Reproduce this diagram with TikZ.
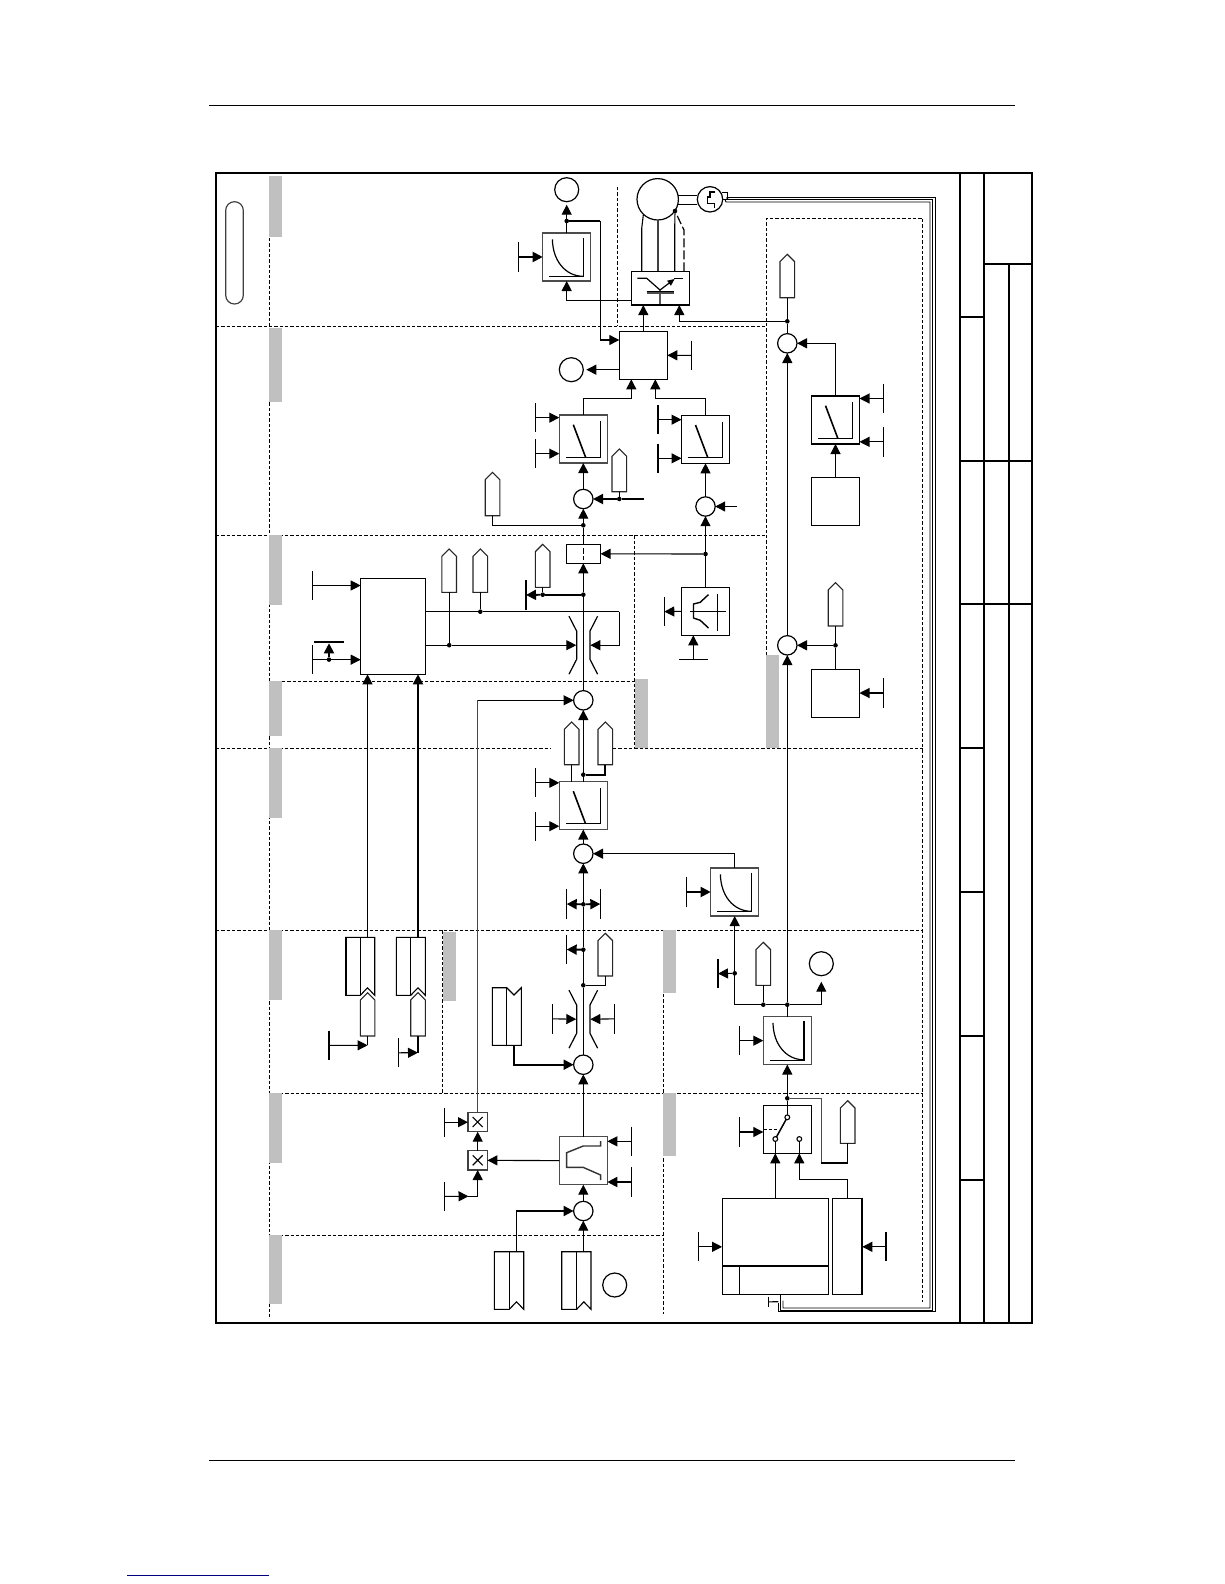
\documentclass[tikz,border=0pt]{standalone}
\usetikzlibrary{arrows.meta,calc}
\definecolor{barg}{HTML}{C0C0C0}
\definecolor{linkb}{HTML}{000080}
\tikzset{
  x=1pt,y=-1pt,
  thn/.style={line width=1.1pt},
  thk/.style={line width=1.9pt},
  frameln/.style={line width=2pt},
  dsh/.style={line width=.9pt,dash pattern=on 3.3pt off 2pt},
  arr/.style={-{Triangle[width=10pt,length=10pt]}},
  bar/.style={fill=barg,draw=none},
  box/.style={rectangle,draw,line width=1.2pt,minimum size=48pt,inner sep=0pt,outer sep=0pt},
  boxk/.style={box,line width=1.6pt},
  boxg/.style={box,line width=1.5pt,draw=black!70},
  sumc/.style={circle,draw,line width=1.2pt,minimum size=19.4pt,inner sep=0pt,outer sep=0pt},
  oc/.style={circle,draw,line width=1.2pt,minimum size=24pt,inner sep=0pt,outer sep=0pt},
  jdot/.style={circle,fill,minimum size=4.6pt,inner sep=0pt,outer sep=0pt},
  contact/.style={circle,draw,fill=white,line width=1.1pt,minimum size=4.8pt,inner sep=0pt,outer sep=0pt},
  xbox/.style={box,minimum size=19.4pt,line width=1.5pt,draw=black!75},
  throtn/.style={rectangle,minimum width=14pt,minimum height=28pt,inner sep=0pt,outer sep=0pt},
  sym/.style={line width=1.2pt},
  curvesym/.pic={
    \draw[sym] (16.7,-19.3) -- (16.7,19.7) -- (-17.3,19.7);
    \draw[sym] (-14.3,-17.7) .. controls (-14,4) and (-1,19) .. (16,19.3);
  },
  rampsym/.pic={
    \draw[line width=1.6pt] (-10,-14.3) -- (2.3,18.3);
    \draw[sym] (17.3,-17.7) -- (17.3,18.3) -- (-17.3,18.3);
  },
  throtsym/.pic={
    \draw[sym] (-14.3,-29) -- (-6.6,-14) -- (-6.6,14) -- (-14.3,29);
    \draw[sym] (14.3,-29) -- (6.6,-14) -- (6.6,14) -- (14.3,29);
  },
  xsym/.pic={
    \draw[thn] (-5,-5) -- (5,5) (-5,5) -- (5,-5);
  },
  fwsym/.pic={
    \draw[thn] (-16,0) -- (20,0);
    \draw[thn] (12,-17.7) -- (12,19.7);
    \draw[line width=1.4pt] (3,-16.7) -- (-5.3,-9) -- (-12,-7.3) -- (-12,6.7) -- (-5.3,9) -- (3,16.7);
  },
  limsym/.pic={
    \draw[line width=1.4pt,draw=black!80] (17.3,-19.7) -- (17.3,-14.7) -- (0,-14.7) -- (-16.7,-8) -- (-16.7,6.7) -- (0,6.7) -- (17.3,14.3) -- (17.3,19.3);
  },
}
% upward pentagon tag: name, centre x, top y, bottom y
\newcommand\pentag[4]{%
  \draw[thn,draw=black!85,fill=white] (#2-7.3,#4) -- (#2-7.3,#3+7.3) -- (#2,#3) -- (#2+7.3,#3+7.3) -- (#2+7.3,#4) -- cycle;
  \coordinate (#1) at (#2,#4);}
% vertical parameter bar: name, x, y1, y2, width
\newcommand\vtick[5]{%
  \draw[line width=#5] (#2,#3) -- (#2,#4);
  \coordinate (#1) at (#2,{(#3+#4)/2});}
% data block with a notch at the bottom: name, left x, mid x, right x, top y, bottom y
\newcommand\blockb[6]{%
  \draw[thn,fill=white] (#2,#5) -- (#4,#5) -- (#4,#6) -- ({(#3+#4)/2},#6-7.5) -- (#3,#6) -- (#2,#6) -- cycle;
  \draw[thn] (#3,#5) -- (#3,#6);
  \coordinate (#1) at ({(#3+#4)/2},#5);}
\begin{document}
\begin{tikzpicture}
\useasboundingbox (0,0) rectangle (1224,1584);
\fill[white] (0,0) rectangle (1224,1584);
% page rules
\draw[line width=1.1pt] (209,105.3) -- (1014.7,105.3);
\draw[line width=1.1pt] (209,1460.3) -- (1014.7,1460.3);
\draw[line width=1.1pt,linkb] (127,1575.3) -- (269,1575.3);
% dashed zones
\draw[dsh] (216,326.3) -- (766.7,326.3);
\draw[dsh] (216,535.3) -- (766.7,535.3);
\draw[dsh] (282,681.3) -- (634.7,681.3);
\draw[dsh] (216,748.3) -- (550,748.3);
\draw[dsh] (613,748.3) -- (922.7,748.3);
\draw[dsh] (216,930.3) -- (922.7,930.3);
\draw[dsh] (269.3,1093.3) -- (922.7,1093.3);
\draw[dsh] (269.3,1235.3) -- (663.3,1235.3);
\draw[dsh] (269.3,238) -- (269.3,1318);
\draw[dsh] (442.7,930.3) -- (442.7,1093.3);
\draw[dsh] (634.7,535.3) -- (634.7,748.3);
\draw[dsh] (663.3,930.3) -- (663.3,1314);
\draw[dsh] (617.3,187) -- (617.3,326.3);
\draw[dsh] (766.7,655) -- (766.7,218.3) -- (922.7,218.3) -- (922.7,1302);
% grey bars
\foreach \a/\b in {176/237,328.3/401.7,535/604.7,681/735.7,748/817.7,930/1000,1093.3/1162.7,1235/1303.7}
  \fill[bar] (269.3,\a) rectangle (282,\b);
\fill[bar] (442.7,932) rectangle (456,1000.7);
\fill[bar] (634.7,679) rectangle (648,748);
\fill[bar] (663,930) rectangle (676,992.7);
\fill[bar] (663,1093.3) rectangle (676,1156);
\fill[bar] (766,655) rectangle (779,748);
% frame and title block
\draw[frameln] (216,172.7) rectangle (1032,1322.7);
\draw[frameln] (960,172.7) -- (960,1322.7);
\draw[frameln] (984,172.7) -- (984,1322.7);
\draw[frameln] (1008.7,264) -- (1008.7,1322.7);
\draw[frameln] (984,264) -- (1032,264);
\draw[frameln] (960,317) -- (984,317);
\draw[frameln] (960,460.7) -- (1032,460.7);
\draw[frameln] (960,604.3) -- (1032,604.3);
\draw[frameln] (960,747.7) -- (984,747.7);
\draw[frameln] (960,892) -- (984,892);
\draw[frameln] (960,1035.7) -- (984,1035.7);
\draw[frameln] (960,1179.7) -- (984,1179.7);
\draw[line width=1.2pt,draw=black!75,rounded corners=8.7pt] (225.7,201.7) rectangle (243.3,304);
% ---------- motor and power stage
\node[circle,draw,line width=1.2pt,minimum size=41.4pt,inner sep=0pt,outer sep=0pt,fill=white] (motor) at (657.7,199.3) {};
\node[circle,draw,line width=1.2pt,minimum size=25.4pt,inner sep=0pt,outer sep=0pt,fill=white] (enc) at (710,199.3) {};
\coordinate (mtA) at (678,195.7);
\coordinate (mtB) at (678,204.3);
\draw[thn] (mtA) -- (enc.west |- mtA);
\draw[thn] (mtB) -- (enc.west |- mtB);
\draw[line width=1.2pt] (715,192) -- (710,192) -- (710,197) -- (707.3,197) -- (707.3,203.6) -- (714.3,203.6) -- (714.3,207.6);
\node[rectangle,draw,line width=1.3pt,minimum width=58pt,minimum height=33.7pt,inner sep=0pt,outer sep=0pt] (inv) at (660.3,288.2) {};
\coordinate (mA) at (641.7,228.3);
\coordinate (mB) at (658,219.5);
\coordinate (mC) at (674.7,229);
\coordinate (mD) at (684,230);
\node[jdot] (mdot) at (675,211) {};
\draw[thn] (inv.north -| mA) -- (mA) -- (643.3,215);
\draw[line width=1.4pt,draw=black!75] (inv.north -| mB) -- (mB);
\draw[thn] (inv.north -| mC) -- (mC) -- (mdot);
\draw[line width=1.2pt,dash pattern=on 9pt off 3pt] (inv.north -| mD) -- (mD) -- (680,221.7) -- (mdot);
% transistor
\draw[sym] (637.3,278.3) -- (646.7,278.3) -- (660,290) -- (660,305);
\draw[-{Triangle[width=6pt,length=7pt]},sym] (660,290) -- (674.6,279);
\draw[sym] (674,278.3) -- (683.3,278.3);
\draw[sym] (646.7,291.3) -- (674,291.3);
\draw[sym,draw=black!70] (646.7,293) -- (674,293);
% triple encoder lines
\draw[line width=.9pt] (721.7,192.3) -- (727.7,192.3) -- (727.7,197.3) -- (935,197.3) -- (935,1311.7) -- (778.3,1311.7) -- (778.3,1302.7);
\draw[line width=.9pt] (722.7,199.5) -- (932.3,199.5) -- (932.3,1310) -- (780.7,1310) -- (780.7,1294.3);
\draw[line width=.9pt] (725,199.5) -- (726,202) -- (930,202) -- (930,1308) -- (783,1308) -- (783,1300.5);
\node[circle,fill,minimum size=2.6pt,inner sep=0pt] (encj) at (727.3,198) {};
\vtick{tBot}{768.3}{1296.7}{1307}{1.1pt}
\coordinate (kBot) at (778.3,1301.7);
\draw[thn] (tBot) -- (kBot);
% ---------- flux / top curve box
\node[boxg] (cv1) at (566.7,257) {};
\pic at (cv1) {curvesym};
\node[oc] (o1) at (566.7,189.7) {};
\node[jdot] (d1) at (566.7,221) {};
\node[box] (ctrl) at (643.3,355.3) {};
\draw[thn] (cv1) -- (d1);
\draw[thn,arr,shorten >=3pt] (d1) -- (o1);
\coordinate (k0) at (600.3,221);
\coordinate (k1) at (600.3,340);
\draw[thk] (d1) -- (k0);
\draw[thn] (k0) -- (k1);
\draw[thn,arr] (k1) -- (ctrl.west |- k1);
\vtick{t1}{518.7}{242.3}{271.7}{1.1pt}
\draw[thk,arr] (t1) -- (cv1.west);
\coordinate (k2) at (566.7,300.5);
\draw[thn,arr] (inv.west |- k2) -- (k2) -- (cv1.south);
\draw[thn,arr] (ctrl.north) -- (inv.south -| ctrl.north);
\vtick{t2}{691.3}{340.7}{370}{1.1pt}
\draw[thn,arr] (t2) -- (ctrl.east);
\node[oc] (o2) at (571.3,369.7) {};
\coordinate (k3) at (619.3,369.7);
\draw[thn,arr,shorten >=3pt] (k3) -- (o2);
% ---------- two current controllers
\node[boxg] (rL) at (583.3,439) {};
\pic at (rL) {rampsym};
\node[boxk] (rR) at (705.5,439.3) {};
\pic at (rR) {rampsym};
\coordinate (k4) at (631.3,398.5);
\coordinate (k5) at (655.3,398.5);
\draw[thn] (rL.north) |- (k4);
\draw[thn,arr] (k4) -- (ctrl.south -| k4);
\draw[thn] (rR.north) |- (k5);
\draw[thn,arr] (k5) -- (ctrl.south -| k5);
\vtick{t3}{535.7}{403}{432.3}{1.1pt}
\vtick{t4}{535.7}{439}{468.3}{1.1pt}
\draw[thn,arr] (t3) -- (rL.west |- t3);
\draw[thn,arr] (t4) -- (rL.west |- t4);
\vtick{t5}{658}{405}{434.3}{1.7pt}
\vtick{t6}{658}{443.7}{473}{1.7pt}
\draw[thn,arr] (t5) -- (rR.west |- t5);
\draw[thn,arr] (t6) -- (rR.west |- t6);
\node[sumc] (s1) at (583.3,499) {};
\node[sumc] (s2) at (705.5,506.5) {};
\draw[thn,arr] (s1) -- (rL.south);
\draw[thn,arr] (s2) -- (rR.south);
\coordinate (k6) at (737.3,506.5);
\draw[thn,arr] (k6) -- (s2);
\node[jdot] (d2) at (619.3,499) {};
\coordinate (k7) at (644,499);
\draw[thk] (k7) -- (d2);
\draw[thk,arr] (d2) -- (s1);
\pentag{p1}{619.3}{449}{491.7}
\draw[thn] (p1) -- (d2);
\node[jdot] (d3) at (583.3,525.3) {};
\draw[thn,arr] (d3) -- (s1);
\pentag{p2}{492.5}{472.3}{515.7}
\draw[thn] (p2) |- (d3);
\node[rectangle,draw,line width=1.1pt,minimum width=34.4pt,minimum height=19pt,inner sep=0pt,outer sep=0pt] (r1) at (583.3,553.8) {};
\draw[thn,dash pattern=on 6pt off 2pt] (583.3,548) -- (583.3,560);
\draw[thn] (r1.north) -- (d3);
\node[jdot] (d4) at (705.5,554) {};
\draw[thn,arr] (d4) -- (r1);
\draw[thn,arr] (d4) -- (s2);
% field weakening box
\node[box] (fw) at (705.5,611.3) {};
\pic at (fw) {fwsym};
\draw[thn] (fw.north) -- (d4);
\vtick{tF}{664.3}{597.3}{626}{1.1pt}
\draw[thn,arr] (fw.west) -- (tF);
\coordinate (tFb) at (693.3,659.3);
\draw[thn] (679,659.3) -- (708,659.3);
\draw[thn,arr] (tFb) -- (fw.south -| tFb);
% ---------- right-hand column
\node[sumc] (s3) at (787.3,343.3) {};
\node[jdot] (d5) at (787.3,321.3) {};
\pentag{p3}{787.3}{254.3}{297.7}
\draw[thn] (p3) -- (d5);
\draw[thn] (d5) -- (s3);
\coordinate (k8) at (679.3,321.3);
\draw[thn,arr] (d5) -- (k8) -- (inv.south -| k8);
\node[boxk] (rU) at (835.5,420) {};
\pic at (rU) {rampsym};
\draw[thn,arr] (rU.north) |- (s3);
\vtick{t7}{883.3}{383.7}{413.3}{1.1pt}
\vtick{t8}{883.3}{427}{456.7}{1.1pt}
\draw[thn,arr] (t7) -- (rU.east |- t7);
\draw[thn,arr] (t8) -- (rU.east |- t8);
\node[box] (bU) at (835.5,501.3) {};
\draw[thn,arr] (bU) -- (rU);
\node[sumc] (s5) at (787.3,645.3) {};
\draw[thn,arr] (s5) -- (s3);
\node[box] (bD) at (835.5,693.3) {};
\node[jdot] (d6) at (835.5,645.3) {};
\pentag{p4}{835.5}{582.7}{626}
\draw[thn] (p4) -- (d6);
\draw[thn] (bD) -- (d6);
\draw[thn,arr] (d6) -- (s5);
\vtick{t9}{883.3}{678.3}{707.7}{1.1pt}
\draw[thn,arr] (t9) -- (bD.east |- t9);
% lower curve box to middle sum
\node[sumc] (s853) at (583.3,853.7) {};
\node[boxg] (cv3) at (734.7,892) {};
\pic at (cv3) {curvesym};
\draw[thn,arr] (cv3.north) |- (s853);
\vtick{t10}{686.7}{877.3}{906.7}{1.1pt}
\draw[thk,arr] (t10) -- (cv3.west |- t10);
\node[jdot] (d763) at (763.3,1004.7) {};
\node[jdot] (d787) at (787.3,1004.7) {};
\coordinate (cn1) at (734.7,1004.7);
\draw[thn,arr] (cn1) -- (cv3);
\draw[thn] (cn1) -- (d763) -- (d787);
\draw[thn,arr] (d787) -- (s5);
\node[oc] (o821) at (821.3,963.7) {};
\draw[thn,arr,shorten >=6pt] (d787) -| (o821);
\pentag{p5}{763.3}{942.3}{985.3}
\draw[thn] (p5) -- (d763);
\node[jdot] (d973) at (734.7,973.3) {};
\vtick{t11}{718}{959}{988.3}{1.9pt}
\draw[thn,arr] (d973) -- (t11);
\node[boxg] (cv4) at (787.3,1040.5) {};
\pic at (cv4) {curvesym};
\draw[thn] (cv4) -- (d787);
\vtick{t12}{739.3}{1026}{1055.3}{1.1pt}
\draw[thn,arr] (t12) -- (cv4.west |- t12);
\node[jdot] (d1098) at (787.3,1098.3) {};
\draw[thn,arr] (d1098) -- (cv4);
\coordinate (k10) at (821.3,1098.3);
\coordinate (k11) at (821.3,1163);
\coordinate (k12) at (847.7,1163);
\pentag{p6}{847.7}{1100.7}{1143.3}
\draw[line width=1.4pt,draw=black!70] (d1098) -- (k10) -- (k11);
\draw[thk] (k11) -- (k12);
\draw[thn] (k12) -- (p6);
% selector switch
\node[box] (sw) at (787.3,1129.3) {};
\node[contact] (c1) at (787.3,1117.3) {};
\node[contact] (c2) at (775.3,1139) {};
\node[contact] (c3) at (799.3,1139) {};
\draw[thn] (d1098) -- (c1);
\draw[line width=1.5pt] (c2) -- (c1);
\draw[thn,dash pattern=on 3.3pt off 2pt] (sw.west) -- (778.5,1129.3);
\vtick{t13}{739.3}{1117.3}{1146.7}{1.1pt}
\draw[thn,arr] (t13) -- (sw.west |- t13);
\node[rectangle,draw,line width=1.2pt,minimum width=106.4pt,minimum height=96pt,inner sep=0pt,outer sep=0pt] (big) at (775.3,1246.3) {};
\node[rectangle,draw,line width=1.2pt,minimum width=29.6pt,minimum height=96pt,inner sep=0pt,outer sep=0pt] (rb) at (847.5,1246.3) {};
\draw[line width=1.9pt] (rb.north east) -- (rb.south east);
\draw[line width=1.7pt] (big.west |- 0,1266) -- (big.east |- 0,1266);
\draw[thn] (739.3,1266) -- (739.3,1294.3);
\draw[thn,arr] (big.north) -- (sw.south -| big.north);
\draw[thn] (sw.south -| big.north) -- (c2);
\coordinate (k13) at (799.3,1179.3);
\draw[thn] (rb.north) |- (k13);
\draw[thn,arr] (k13) -- (sw.south -| k13);
\draw[thn] (sw.south -| k13) -- (c3);
\vtick{t14}{698.7}{1232.3}{1261.3}{1.1pt}
\draw[thn,arr] (t14) -- (big.west |- t14);
\vtick{t15}{886}{1232.3}{1261.3}{1.7pt}
\draw[thn,arr] (t15) -- (rb.east |- t15);
% ---------- central column
\node[sumc] (s4) at (583.3,700.3) {};
\node[throtn] (th1) at (583.3,645.2) {};
\pic at (th1) {throtsym};
\node[jdot] (d594) at (583.3,594.7) {};
\draw[thn] (s4) -- (d594);
\draw[thn,arr] (d594) -- (r1.south);
\node[jdot] (dP) at (542.7,594.7) {};
\pentag{p7}{542.7}{544.3}{587.3}
\draw[thn] (p7) -- (dP);
\vtick{t16}{526}{580}{610}{1.9pt}
\draw[thk] (d594) -- (dP);
\draw[thk,arr] (dP) -- (t16);
% speed-limit box outputs
\node[rectangle,draw,line width=1.2pt,minimum width=64.6pt,minimum height=96pt,inner sep=0pt,outer sep=0pt] (pb) at (393,626.3) {};
\node[jdot] (d480) at (480.3,611.7) {};
\node[jdot] (d449) at (449.2,645.2) {};
\pentag{p8}{449.2}{549}{592.3}
\pentag{p9}{480.3}{549}{592.3}
\draw[thn] (p8) -- (d449);
\draw[thn] (p9) -- (d480);
\coordinate (k14) at (619.3,611.7);
\coordinate (k15) at (619.3,645.2);
\draw[thn] (pb.east |- d480) -- (d480) -- (k14);
\draw[thn,arr] (k14) -- (k15) -- (th1.east);
\draw[thn] (pb.east |- d449) -- (d449);
\draw[thn,arr] (d449) -- (th1.west);
\vtick{t17}{312.3}{571}{600}{1.1pt}
\draw[thn,arr] (t17) -- (pb.west |- t17);
\vtick{t18}{312.3}{645}{674.3}{1.1pt}
\draw[thn,arr] (t18) -- (pb.west |- t18);
\node[jdot] (d329) at (329,659.6) {};
\coordinate (k16) at (329,643.3);
\draw[thk] (314.3,642.4) -- (344,642.4);
\draw[thk,arr] (d329) -- (k16);
% speed controller
\node[boxg] (r805) at (583.3,805.5) {};
\pic at (r805) {rampsym};
\draw[thn,arr] (r805) -- (s4);
\node[jdot] (d775) at (583.3,774.7) {};
\pentag{p10}{571.7}{722}{764.7}
\pentag{p11}{605.3}{722}{764.7}
\draw[thn] (p10) -- (r805.north -| p10);
\draw[thk] (d775) -| (p11);
\vtick{t19}{535.7}{768.3}{797.3}{1.1pt}
\vtick{t20}{535.7}{811.7}{840.7}{1.1pt}
\draw[thn,arr] (t19) -- (r805.west |- t19);
\draw[thn,arr] (t20) -- (r805.west |- t20);
\draw[thn,arr] (s853) -- (r805);
\node[jdot] (d904) at (583.3,904.3) {};
\draw[thn,arr] (d904) -- (s853);
\vtick{t21}{566.7}{889.3}{918.7}{1.1pt}
\vtick{t22}{600.3}{889.3}{918.7}{1.1pt}
\draw[thk,arr] (d904) -- (t21);
\draw[thk,arr] (d904) -- (t22);
\node[jdot] (d950) at (583.3,949.7) {};
\vtick{t23}{566.7}{934.7}{964.3}{1.1pt}
\draw[thk,arr] (d950) -- (t23);
\node[jdot] (d985) at (583.3,985.3) {};
\pentag{p12}{605.3}{933.3}{976}
\draw[thn] (d985) -| (p12);
\node[sumc] (s1064) at (583.3,1064.7) {};
\draw[thn] (s1064) -- (d985) -- (d950) -- (d904);
\node[throtn] (th2) at (583.3,1019.2) {};
\pic at (th2) {throtsym};
\vtick{t24}{552.7}{1004}{1033.7}{1.1pt}
\vtick{t25}{614.7}{1004}{1033.7}{1.1pt}
\draw[thn,arr] (t24) -- (th2.west);
\draw[thn,arr] (t25) -- (th2.east);
% data block with notch on top
\draw[thn,fill=white] (492.3,987.7) -- (506.7,987.7) -- (514,995) -- (521.3,987.7) -- (521.3,1045.3) -- (492.3,1045.3) -- cycle;
\draw[thn] (506.7,987.7) -- (506.7,1045.3);
\coordinate (blC) at (514,1045.3);
\draw[thk,arr] (blC) |- (s1064);
% limiter and multipliers
\node[boxg] (lim) at (583.3,1160.7) {};
\pic at (lim) {limsym};
\draw[thn,arr] (lim) -- (s1064);
\vtick{t26}{631.3}{1126.7}{1156}{1.1pt}
\vtick{t27}{631.3}{1167.3}{1196.7}{1.1pt}
\draw[thn,arr] (t26) -- (lim.east |- t26);
\draw[thk,arr] (t27) -- (lim.east |- t27);
\node[xbox] (x1) at (477.7,1122) {};
\node[xbox] (x2) at (477.7,1160.3) {};
\pic at (x1) {xsym};
\pic at (x2) {xsym};
\draw[thn,arr] (lim) -- (x2);
\draw[thn,arr] (x2) -- (x1);
\vtick{t28}{444.7}{1107.7}{1136.7}{1.1pt}
\draw[thn,arr] (t28) -- (x1.west |- t28);
\vtick{t29}{444.7}{1181.7}{1211}{1.1pt}
\coordinate (k17) at (477.7,1196.3);
\draw[thn,arr] (t29) -- (468.5,1196.3);
\draw[thn] (468,1196.3) -- (k17);
\draw[thn,arr] (k17) -- (x2);
\coordinate (k9) at (477.7,700.3);
\draw[line width=1.3pt,draw=black!72] (x1.north) -- (k9);
\draw[thn,arr] (k9) -- (s4);
% setpoint sum and blocks
\node[sumc] (s1211) at (583.3,1211) {};
\draw[thn,arr] (s1211) -- (lim);
\blockb{blL}{494.3}{509.3}{523.7}{1251.7}{1309.3}
\blockb{blR}{561.7}{576.7}{591}{1251.7}{1309.3}
\draw[thk,arr] (blL) |- (s1211);
\draw[thn,arr] (s1211 |- blR) -- (s1211);
\node[oc] (o3) at (614.7,1285) {};
% parameter blocks A, B
\blockb{blA}{345.7}{360.3}{374.7}{937.3}{995.3}
\blockb{blB}{396.3}{410.7}{425.3}{937.3}{995.3}
\draw[thk] (345.7,937.3) -- (345.7,995.3);
\draw[thn,arr] (blA) -- (pb.south -| blA);
\draw[thk,arr] (blB) -- (pb.south -| blB);
\pentag{pA}{367.6}{992.7}{1036}
\pentag{pB}{418}{992.7}{1036}
\coordinate (kA) at (367.6,1045.3);
\coordinate (kB) at (418,1052.7);
\draw[thn] (pA) -- (kA);
\draw[thk] (pB) -- (kB);
\vtick{tA}{329}{1030.7}{1060}{1.9pt}
\vtick{tB}{398.7}{1038.3}{1067.3}{1.1pt}
\draw[thn,arr] (tA) -- (kA);
\draw[thn,arr] (tB) -- (kB);
\end{tikzpicture}
\end{document}
